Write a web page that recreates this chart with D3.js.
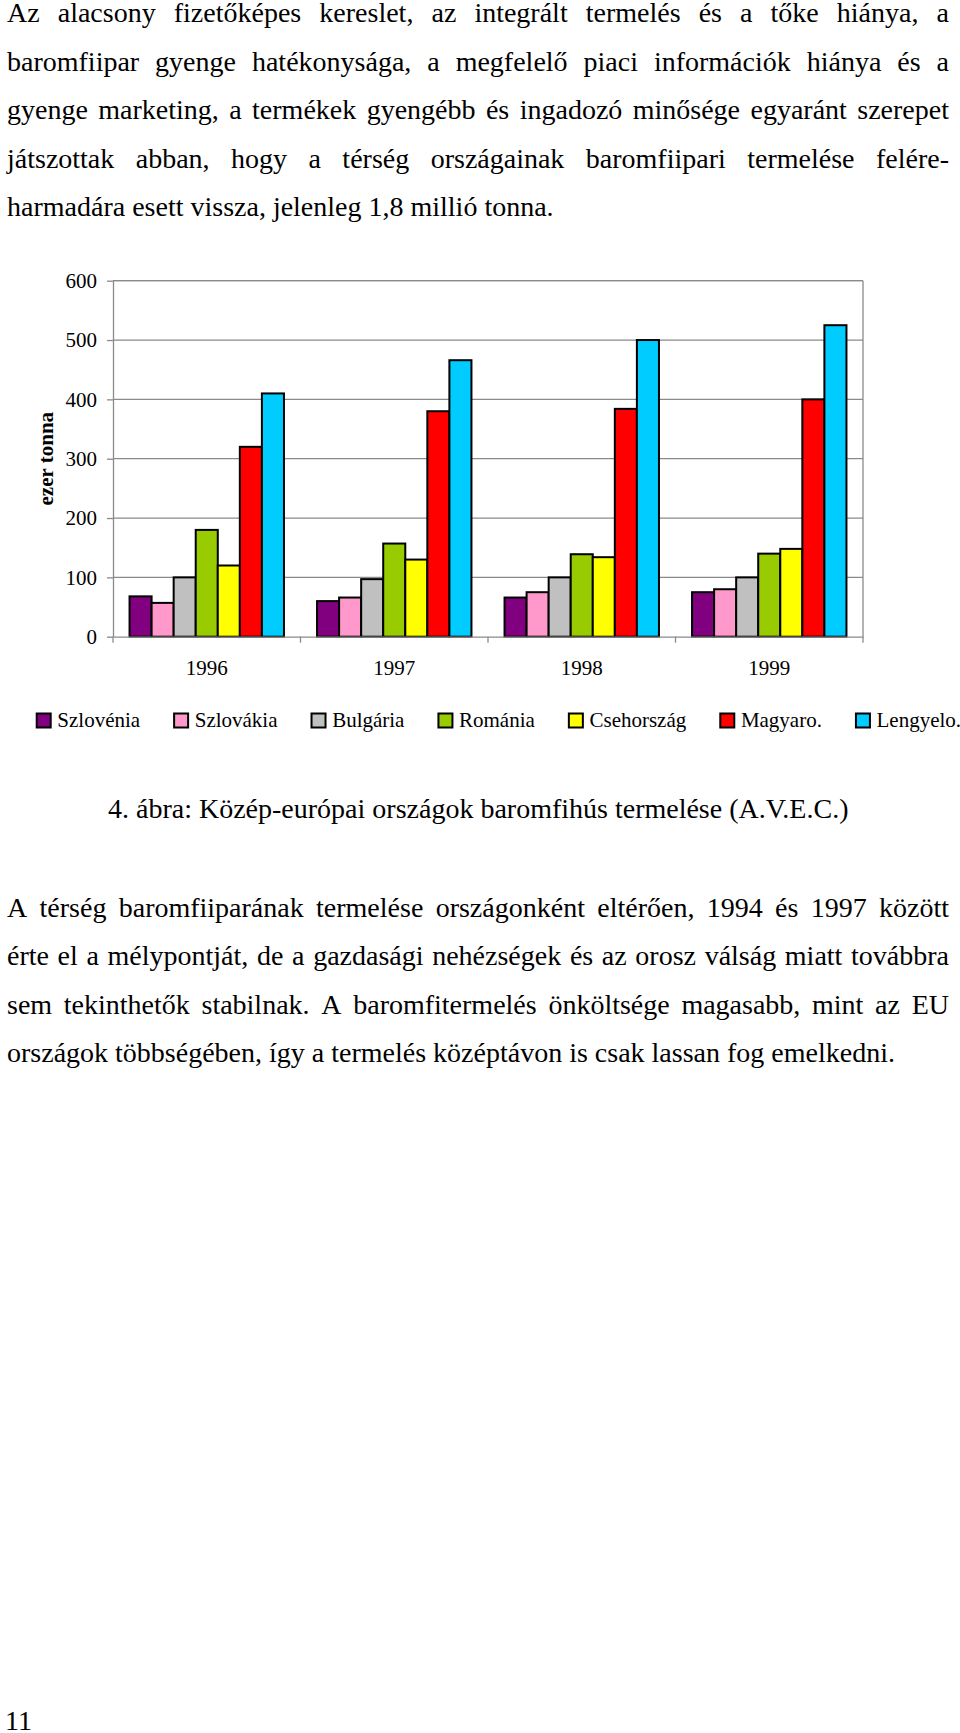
<!DOCTYPE html>
<html><head><meta charset="utf-8">
<script src="https://cdn.jsdelivr.net/npm/d3@7"></script>
<style>
body{margin:0;background:#fff}
svg{display:block}
text{font-family:"Liberation Serif","Times New Roman",serif;fill:#000}
</style>
</head><body>
<svg id="c" width="960" height="1733"></svg>
<script>
// ---------- data ----------
const years = ["1996", "1997", "1998", "1999"];
const countries = ["Szlovénia", "Szlovákia", "Bulgária", "Románia", "Csehország", "Magyaro.", "Lengyelo."];
const colors = ["#800080", "#FF99CC", "#C0C0C0", "#99CC00", "#FFFF00", "#FF0000", "#00CCFF"];
const szlovenia  = [68, 60, 66, 75];
const szlovakia  = [57, 66, 75, 80];
const bulgaria   = [100, 97, 100, 100];
const romania    = [180, 157, 139, 140];
const csehorszag = [120, 130, 134, 148];
const magyaro    = [320, 380, 384, 400];
const lengyelo   = [410, 466, 500, 525];
const yTicks = [0, 100, 200, 300, 400, 500, 600];
const yTitle = "ezer tonna";
const para1 = [
  "Az alacsony fizetőképes kereslet, az integrált termelés és a tőke hiánya, a",
  "baromfiipar gyenge hatékonysága, a megfelelő piaci információk hiánya és a",
  "gyenge marketing, a termékek gyengébb és ingadozó minősége egyaránt szerepet",
  "játszottak abban, hogy a térség országainak baromfiipari termelése felére-",
  "harmadára esett vissza, jelenleg 1,8 millió tonna."
];
const caption = "4. ábra: Közép-európai országok baromfihús termelése (A.V.E.C.)";
const para2 = [
  "A térség baromfiiparának termelése országonként eltérően, 1994 és 1997 között",
  "érte el a mélypontját, de a gazdasági nehézségek és az orosz válság miatt továbbra",
  "sem tekinthetők stabilnak. A baromfitermelés önköltsége magasabb, mint az EU",
  "országok többségében, így a termelés középtávon is csak lassan fog emelkedni."
];
const pageNumber = "11";

const series = [szlovenia, szlovakia, bulgaria, romania, csehorszag, magyaro, lengyelo];

// ---------- body text ----------
const svg = d3.select("#c");
const FS = 28;
const TX0 = 7, TX1 = 949;

function textLine(str, y, justify) {
  const g = svg.append("g");
  if (!justify) {
    g.append("text").attr("x", TX0).attr("y", y).attr("font-size", FS).text(str);
    return;
  }
  const words = str.split(" ");
  const nodes = words.map(w => g.append("text").attr("y", y).attr("font-size", FS).text(w));
  const widths = nodes.map(n => n.node().getComputedTextLength());
  const total = d3.sum(widths);
  const gap = (TX1 - TX0 - total) / (words.length - 1);
  let x = TX0;
  nodes.forEach((n, i) => { n.attr("x", x); x += widths[i] + gap; });
}
para1.forEach((l, i) => textLine(l, 22 + i * 48.5, i < para1.length - 1));
para2.forEach((l, i) => textLine(l, 916.5 + i * 48.6, i < para2.length - 1));

svg.append("text").attr("x", 108).attr("y", 817.5).attr("font-size", FS).text(caption);
svg.append("text").attr("x", 5).attr("y", 1730).attr("font-size", FS).text(pageNumber);

// ---------- chart ----------
const P = { left: 113, right: 863, top: 280.7, bottom: 636.7 };
const y = d3.scaleLinear().domain([0, 600]).range([P.bottom, P.top]);
const x0 = d3.scaleBand().domain(years).range([P.left, P.right]).paddingInner(0).paddingOuter(0);
const bw = x0.bandwidth() / 8.5;
const x1 = d3.scaleBand().domain(countries).range([0.75 * bw, 7.75 * bw]).padding(0);
const GRAY = "#8a8a8a";

const chart = svg.append("g");

// gridlines
chart.append("g").selectAll("line").data(yTicks.filter(t => t > 0)).join("line")
  .attr("x1", P.left).attr("x2", P.right)
  .attr("y1", d => y(d)).attr("y2", d => y(d))
  .attr("stroke", GRAY).attr("stroke-width", 1.3);
// right border
chart.append("line").attr("x1", P.right).attr("x2", P.right).attr("y1", P.top).attr("y2", P.bottom)
  .attr("stroke", GRAY).attr("stroke-width", 1.3);

// bars
const groups = chart.append("g").selectAll("g").data(series).join("g")
  .attr("fill", (d, i) => colors[i]);
groups.each(function (vals, si) {
  d3.select(this).selectAll("rect").data(vals).join("rect")
    .attr("x", (v, yi) => x0(years[yi]) + x1(countries[si]))
    .attr("width", x1.bandwidth())
    .attr("y", v => y(v))
    .attr("height", v => y(0) - y(v))
    .attr("stroke", "#000").attr("stroke-width", 2);
});

// y axis
const yAxis = chart.append("g").attr("transform", `translate(${P.left},0)`)
  .call(d3.axisLeft(y).tickValues(yTicks).tickSize(6).tickPadding(10).tickSizeOuter(0));
yAxis.select(".domain").attr("stroke", GRAY).attr("stroke-width", 1.3);
yAxis.selectAll(".tick line").attr("stroke", GRAY).attr("stroke-width", 1.3);
yAxis.selectAll(".tick text").attr("font-size", 21).attr("font-family", "Liberation Serif").attr("fill", "#000");

// x axis
const xAxis = chart.append("g").attr("transform", `translate(0,${P.bottom})`)
  .call(d3.axisBottom(x0).tickSize(0).tickPadding(0).tickSizeOuter(0));
xAxis.select(".domain").attr("stroke", GRAY).attr("stroke-width", 1.3);
xAxis.selectAll(".tick text").attr("font-size", 21).attr("font-family", "Liberation Serif")
  .attr("fill", "#000").attr("dy", null).attr("y", 38.5);
const bounds = years.map(d => x0(d)).concat([P.right]);
chart.append("g").selectAll("line").data(bounds).join("line")
  .attr("x1", d => d).attr("x2", d => d).attr("y1", P.bottom).attr("y2", P.bottom + 6)
  .attr("stroke", GRAY).attr("stroke-width", 1.3);
// top border
chart.append("line").attr("x1", P.left).attr("x2", P.right).attr("y1", P.top).attr("y2", P.top)
  .attr("stroke", GRAY).attr("stroke-width", 1.3);

// y title
chart.append("text").attr("transform", `translate(52.5,${(P.top + P.bottom) / 2}) rotate(-90)`)
  .attr("text-anchor", "middle").attr("font-size", 21).attr("font-weight", "bold").text(yTitle);

// legend
const legend = chart.append("g");
let cx = 36.7;
countries.forEach((c, i) => {
  legend.append("rect").attr("x", cx).attr("y", 713.5).attr("width", 14).attr("height", 14)
    .attr("fill", colors[i]).attr("stroke", "#000").attr("stroke-width", 2);
  const t = legend.append("text").attr("x", cx + 20.6).attr("y", 727).attr("font-size", 21).text(c);
  cx += 20.6 + t.node().getComputedTextLength() + 34;
});
</script>
</body></html>
